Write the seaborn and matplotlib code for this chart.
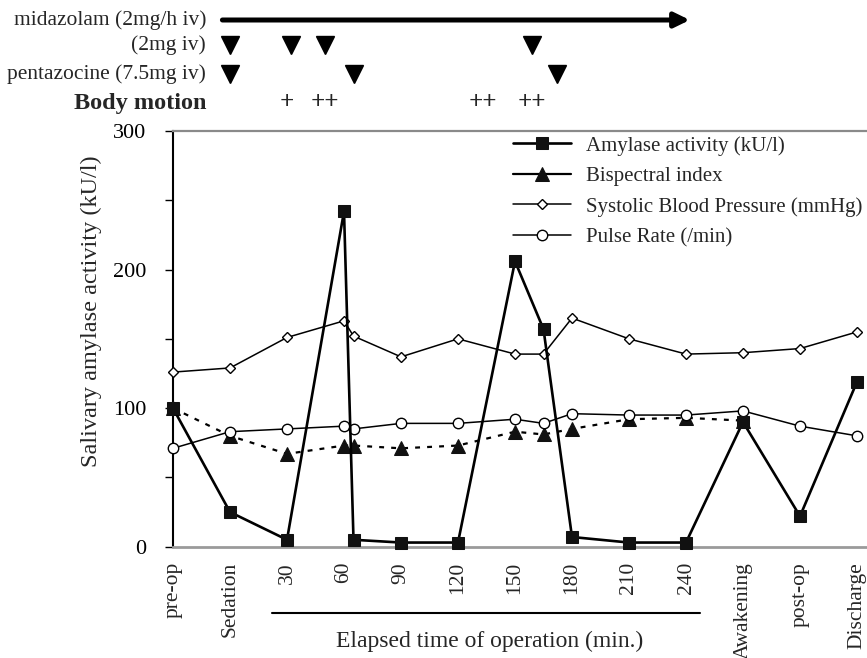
import matplotlib
matplotlib.use('Agg')
import matplotlib.pyplot as plt
import matplotlib.transforms as mtransforms
from matplotlib.ticker import MultipleLocator
import seaborn as sns

# ---------------- data ----------------
tick_minutes = [-30, 0, 30, 60, 90, 120, 150, 180, 210, 240, 270, 300, 330]
tick_labels = ['pre-op', 'Sedation', '30', '60', '90', '120', '150', '180',
               '210', '240', 'Awakening', 'post-op', 'Discharge']

time_full = [-30, 0, 30, 60, 65, 90, 120, 150, 165, 180, 210, 240, 270, 300, 330]
amylase = [100, 25, 5, 242, 5, 3, 3, 206, 157, 7, 3, 3, 90, 22, 119]
sbp = [126, 129, 151, 163, 152, 137, 150, 139, 139, 165, 150, 139, 140, 143, 155]
pulse = [71, 83, 85, 87, 85, 89, 89, 92, 89, 96, 95, 95, 98, 87, 80]
time_bis = [-30, 0, 30, 60, 65, 90, 120, 150, 165, 180, 210, 240, 270]
bis = [100, 80, 67, 73, 73, 71, 73, 83, 81, 85, 92, 93, 91]

midazolam_span = [-4, 242]
bolus_2mg = [0, 32, 50, 159]
pentazocine_doses = [0, 65, 172]
body_motion_x = [30, 50, 133, 159]
body_motion_marks = ['+', '++', '++', '++']

series_labels = ['Amylase activity (kU/l)', 'Bispectral index',
                 'Systolic Blood Pressure (mmHg)', 'Pulse Rate (/min)']

# ---------------- style ----------------
sns.set_style('white')
plt.rcParams['font.family'] = ['Liberation Serif', 'DejaVu Serif']

W, H = 867, 658
fig = plt.figure(figsize=(W / 100, H / 100), dpi=100)
ax_l, ax_r, ax_t, ax_b = 173, 866, 131, 546.7
ax = fig.add_axes([ax_l / W, (H - ax_b) / H, (ax_r - ax_l) / W, (ax_b - ax_t) / H])

K = 'black'
sns.lineplot(x=time_full, y=amylase, ax=ax, color=K, lw=1.9, marker='s', markersize=9,
             markerfacecolor='#111111', markeredgecolor='#111111', label=series_labels[0],
             zorder=6, clip_on=False, sort=False, estimator=None)
sns.lineplot(x=time_bis, y=bis, ax=ax, color=K, lw=1.6, linestyle=(0, (2.2, 3.2)),
             marker='^', markersize=10, markerfacecolor='#111111', markeredgecolor='#111111',
             label=series_labels[1], zorder=3, clip_on=False, sort=False, estimator=None)
sns.lineplot(x=time_full, y=sbp, ax=ax, color=K, lw=1.1, marker='D', markersize=5.5,
             markerfacecolor='white', markeredgecolor=K, markeredgewidth=1.0,
             label=series_labels[2], zorder=4, clip_on=False, sort=False, estimator=None)
sns.lineplot(x=time_full, y=pulse, ax=ax, color=K, lw=1.1, marker='o', markersize=7.5,
             markerfacecolor='white', markeredgecolor=K, markeredgewidth=1.0,
             label=series_labels[3], zorder=4, clip_on=False, sort=False, estimator=None)

ax.set_xlim(-30, -30 + (ax_r - ax_l) / 1.9)
ax.set_ylim(0, 300)
ax.set_xticks(tick_minutes)
ax.set_xticklabels(tick_labels, rotation=90, fontsize=15.5)
ax.yaxis.set_major_locator(MultipleLocator(100))
ax.yaxis.set_minor_locator(MultipleLocator(50))
ax.tick_params(axis='x', length=0, pad=11)
ax.tick_params(axis='y', which='both', direction='out', length=6, width=1.0,
               colors=K, labelsize=16, pad=13, left=True)
ax.set_xlabel('')
ax.set_ylabel('Salivary amylase activity (kU/l)', fontsize=17.5)
ax.yaxis.set_label_coords(-0.102, 0.567)

ax.spines['right'].set_visible(False)
ax.spines['left'].set_color(K)
ax.spines['left'].set_linewidth(1.5)
ax.spines['top'].set_color('#8a8a8a')
ax.spines['top'].set_linewidth(1.6)
ax.spines['bottom'].set_color('#9a9a9a')
ax.spines['bottom'].set_linewidth(2.0)

leg = ax.legend(loc='upper left', bbox_to_anchor=(0.4906, 0.988), frameon=False,
                fontsize=15, handlelength=2.8, handletextpad=0.7, labelspacing=0.52,
                borderpad=0, borderaxespad=0)
for ln in leg.get_lines():
    ln.set_linestyle('-')

# ---------------- header annotations ----------------
trans = mtransforms.blended_transform_factory(ax.transData, ax.transAxes)
def ay(py):
    return (ax_b - py) / (ax_b - ax_t)

x_txt = (206 - ax_l) / 1.9 - 30
rows = [ay(20), ay(45), ay(74), ay(103)]
ax.text(x_txt, rows[0], 'midazolam (2mg/h iv)', ha='right', va='center',
        fontsize=15.5, transform=trans)
ax.text(x_txt, rows[1], '(2mg iv)', ha='right', va='center', fontsize=15.5, transform=trans)
ax.text(x_txt, rows[2], 'pentazocine (7.5mg iv)', ha='right', va='center',
        fontsize=15.5, transform=trans)
ax.text(x_txt, rows[3], 'Body motion', ha='right', va='center', fontsize=17.5,
        fontweight='bold', transform=trans)

ax.annotate('', xy=(midazolam_span[1], rows[0]), xytext=(midazolam_span[0], rows[0]),
            xycoords=trans, textcoords=trans, annotation_clip=False,
            arrowprops=dict(arrowstyle='-|>,head_length=0.45,head_width=0.22', lw=3.6,
                            color=K, shrinkA=0, shrinkB=0, mutation_scale=20))
ax.plot(bolus_2mg, [rows[1]] * len(bolus_2mg), 'v', color=K, ms=13.5, transform=trans,
        clip_on=False)
ax.plot(pentazocine_doses, [rows[2]] * len(pentazocine_doses), 'v', color=K, ms=13.5,
        transform=trans, clip_on=False)
for xm, mk in zip(body_motion_x, body_motion_marks):
    ax.text(xm, rows[3], mk, ha='center', va='center', fontsize=18, fontweight='bold',
            transform=trans)

# elapsed time bracket
x1 = (272 - ax_l) / 1.9 - 30
x2 = (700 - ax_l) / 1.9 - 30
ax.plot([x1, x2], [ay(612.7)] * 2, color=K, lw=1.5, transform=trans, clip_on=False)
ax.text((490 - ax_l) / 1.9 - 30, ay(641), 'Elapsed time of operation (min.)',
        ha='center', va='center', fontsize=17, transform=trans)

fig.savefig('out.png', dpi=100)
